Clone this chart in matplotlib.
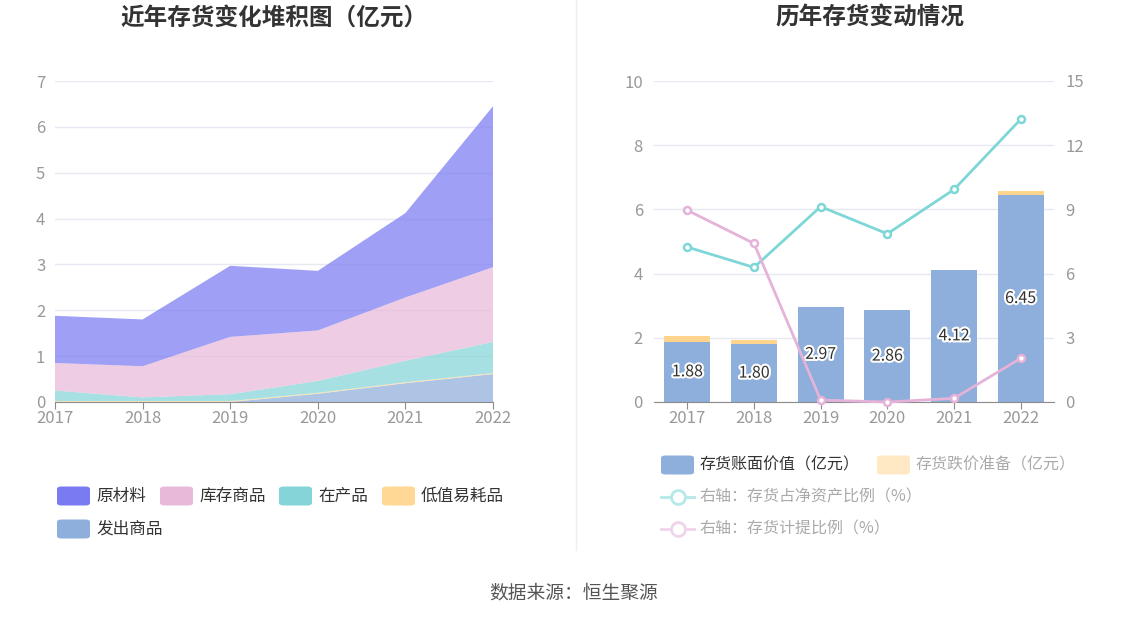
import matplotlib
matplotlib.use("Agg")
import matplotlib.pyplot as plt
import matplotlib.patheffects as pe
from matplotlib.patches import FancyBboxPatch
from matplotlib.lines import Line2D
import numpy as np

plt.rcParams['font.family'] = ['Noto Sans CJK SC', 'DejaVu Sans']

years = ['2017', '2018', '2019', '2020', '2021', '2022']

# Left chart: stacked inventory composition (亿元), bottom to top
fachu = [0.00, 0.00, 0.00, 0.18, 0.41, 0.61]      # 发出商品
dizhi = [0.02, 0.02, 0.02, 0.02, 0.02, 0.02]      # 低值易耗品
zaichan = [0.23, 0.08, 0.15, 0.26, 0.47, 0.68]    # 在产品
kucun = [0.60, 0.68, 1.25, 1.10, 1.38, 1.63]      # 库存商品
yuancai = [1.03, 1.02, 1.55, 1.30, 1.84, 3.51]    # 原材料

# Right chart
book_value = [1.88, 1.80, 2.97, 2.86, 4.12, 6.45]       # 存货账面价值（亿元）
provision = [0.186, 0.144, 0.003, 0.0, 0.007, 0.134]   # 存货跌价准备（亿元）
ratio_net = [7.24, 6.29, 9.13, 7.86, 9.93, 13.21]      # 存货占净资产比例（%）
ratio_prov = [8.96, 7.41, 0.09, 0.0, 0.17, 2.04]       # 存货计提比例（%）

W, H = 1148, 619
fig = plt.figure(figsize=(W / 100, H / 100), dpi=100)

def fx(px):
    return px / W

def fy(py):
    return 1 - py / H

c_yuan = '#7a7af2'
c_kucun = '#e8b9d9'
c_zai = '#85d5d8'
c_di = '#ffd895'
c_fa = '#8eaedb'

grid_c = '#e6e9f2'
tick_c = '#999999'
axis_c = '#8c8c8c'
TS = 12

# ---------- Left chart ----------
axL = fig.add_axes([fx(55), fy(402), fx(493) - fx(55), fy(81) - fy(402)])
x = np.arange(len(years))
axL.stackplot(x, fachu, dizhi, zaichan, kucun, yuancai,
              colors=[c_fa, c_di, c_zai, c_kucun, c_yuan], alpha=0.72, linewidth=0)
axL.set_xlim(0, 5)
axL.set_ylim(0, 7)
axL.set_yticks(range(0, 8))
axL.set_xticks(x)
axL.set_xticklabels(years)
axL.grid(axis='y', color=grid_c, linewidth=1)
axL.set_axisbelow(True)
for s in ['top', 'right', 'left']:
    axL.spines[s].set_visible(False)
axL.spines['bottom'].set_color(axis_c)
axL.tick_params(axis='y', length=0, labelsize=TS, colors=tick_c, pad=7)
axL.tick_params(axis='x', length=5, color=axis_c, labelsize=TS, labelcolor=tick_c, pad=1)

fig.text(fx(274), fy(18), '近年存货变化堆积图（亿元）', ha='center', va='center',
         fontsize=17, fontweight='bold', color='#333333')

# ---------- Right chart ----------
axR = fig.add_axes([fx(654), fy(402), fx(1054) - fx(654), fy(81) - fy(402)])
bw = 0.686
axR.bar(x, book_value, width=bw, color=c_fa, zorder=2)
axR.bar(x, provision, width=bw, bottom=book_value, color='#ffd48c', zorder=2)
for xi, v in zip(x, book_value):
    axR.text(xi, v / 2, f'{v:.2f}', ha='center', va='center', fontsize=11.5, color='#333333',
             path_effects=[pe.withStroke(linewidth=3, foreground='white')], zorder=5)
axR.set_xlim(-0.5, 5.5)
axR.set_ylim(0, 10)
axR.set_yticks(range(0, 11, 2))
axR.set_xticks(x)
axR.set_xticklabels(years)
axR.grid(axis='y', color=grid_c, linewidth=1)
axR.set_axisbelow(True)
for s in ['top', 'right', 'left']:
    axR.spines[s].set_visible(False)
axR.spines['bottom'].set_color(axis_c)
axR.tick_params(axis='y', length=0, labelsize=TS, colors=tick_c, pad=8)
axR.tick_params(axis='x', length=5, color=axis_c, labelsize=TS, labelcolor=tick_c, pad=1)

axR2 = axR.twinx()
axR2.set_ylim(0, 15)
axR2.set_yticks(range(0, 16, 3))
for s in ['top', 'right', 'left', 'bottom']:
    axR2.spines[s].set_visible(False)
axR2.tick_params(axis='y', length=0, labelsize=TS, colors=tick_c, pad=8)
c_teal = '#7fd6d6'
c_pink = '#e5b3d9'
axR2.plot(x, ratio_net, color=c_teal, linewidth=2, marker='o', markersize=5,
          markerfacecolor='white', markeredgecolor=c_teal, markeredgewidth=1.8, zorder=4)
axR2.plot(x, ratio_prov, color=c_pink, linewidth=2, marker='o', markersize=5,
          markerfacecolor='white', markeredgecolor=c_pink, markeredgewidth=1.8, zorder=4,
          clip_on=False)

fig.text(fx(870), fy(18), '历年存货变动情况', ha='center', va='center',
         fontsize=17, fontweight='bold', color='#333333')

# divider
fig.add_artist(Line2D([fx(576), fx(576)], [fy(0), fy(550)], color='#eeeeee', linewidth=1))

# ---------- Legends ----------
def box(px, py, color, alpha=1.0):
    w, h = 33, 19
    p = FancyBboxPatch((fx(px), fy(py + h / 2)), fx(w), h / H,
                       boxstyle='round,pad=0,rounding_size=0.004',
                       transform=fig.transFigure, facecolor=color, edgecolor='none', alpha=alpha)
    fig.add_artist(p)

def label(px, py, text, color='#333333', size=12):
    fig.text(fx(px), fy(py), text, ha='left', va='center', fontsize=size, color=color)

left_items = [(57, 496, c_yuan, '原材料'), (160, 496, c_kucun, '库存商品'),
              (279, 496, c_zai, '在产品'), (382, 496, c_di, '低值易耗品'),
              (57, 529, c_fa, '发出商品')]
for px, py, c, t in left_items:
    box(px, py, c)
    label(px + 39, py, t)

box(661, 465, c_fa)
label(700, 465, '存货账面价值（亿元）', size=11.5)
box(877, 465, '#ffe8c4')
label(916, 465, '存货跌价准备（亿元）', color='#aaaaaa', size=11.5)

for py, c, t in [(497, '#b5e8e8', '右轴：存货占净资产比例（%）'),
                 (529, '#f0d4ea', '右轴：存货计提比例（%）')]:
    fig.add_artist(Line2D([fx(661), fx(694)], [fy(py), fy(py)], color=c, linewidth=2))
    fig.add_artist(Line2D([fx(677.5)], [fy(py)], marker='o', markersize=10,
                          markerfacecolor='white', markeredgecolor=c, markeredgewidth=2,
                          linestyle='none'))
    label(700, py, t, color='#aaaaaa', size=11.5)

fig.text(fx(574), fy(593), '数据来源：恒生聚源', ha='center', va='center',
         fontsize=13.5, color='#555555')

fig.savefig('out.png', dpi=100, facecolor='white')
